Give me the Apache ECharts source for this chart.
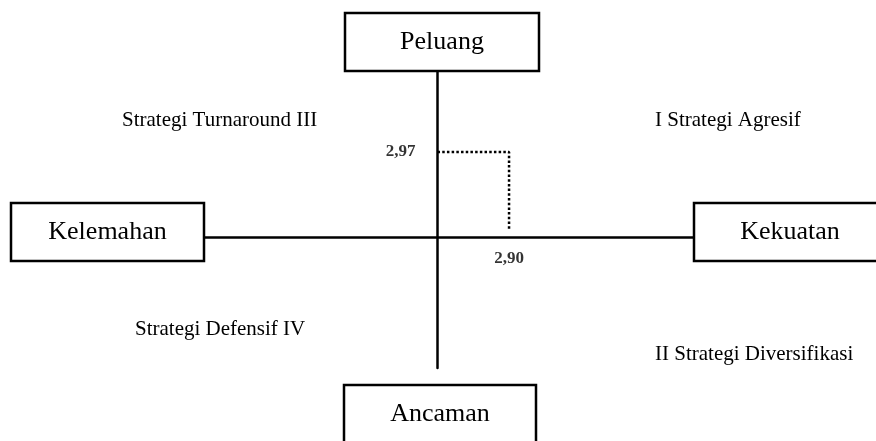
<!DOCTYPE html>
<html>
<head>
<meta charset="utf-8">
<script src="https://cdn.jsdelivr.net/npm/echarts@6/dist/echarts.min.js"></script>
<style>
html,body{margin:0;padding:0;background:#fff;}
#chart{width:876px;height:441px;}
</style>
</head>
<body>
<div id="chart"></div>
<script>
// ---- data ----
const sideLabels = ['Peluang', 'Kelemahan', 'Kekuatan', 'Ancaman'];
const quadrantLabels = ['Strategi Turnaround III', 'I Strategi Agresif', 'Strategi Defensif IV', 'II Strategi Diversifikasi'];
const scoreX = [2.90];   // Kekuatan - Kelemahan
const scoreY = [2.97];   // Peluang - Ancaman

// ---- layout ----
const FONT = "'Liberation Serif', 'Times New Roman', serif";
const X_MIN = -9.47, X_MAX = 10.40;
const Y_MIN = -4.577, Y_MAX = 5.80;
const DOT_END = 0.28;
const fmt = v => v.toFixed(2).replace('.', ',');

const chart = echarts.init(document.getElementById('chart'));

const boxes = [
  {x: 345, y: 13, w: 194, h: 58, cx: 442, cy: 42},
  {x: 11, y: 203, w: 193, h: 58, cx: 107.5, cy: 232},
  {x: 694, y: 203, w: 193, h: 58, cx: 790, cy: 232},
  {x: 344, y: 385, w: 192, h: 58, cx: 440, cy: 414}
];
const qpos = [[122, 120], [655, 120], [135, 329], [655, 354]];

const graphic = [];
sideLabels.forEach((t, i) => {
  const b = boxes[i];
  graphic.push({type: 'rect', z: 100, shape: {x: b.x, y: b.y, width: b.w, height: b.h},
    style: {fill: '#fff', stroke: '#000', lineWidth: 2.5}});
  graphic.push({type: 'text', z: 101, x: b.cx, y: b.cy,
    style: {text: t, font: '26px ' + FONT, fill: '#000', align: 'center', verticalAlign: 'middle'}});
});
quadrantLabels.forEach((t, i) => {
  graphic.push({type: 'text', z: 101, x: qpos[i][0], y: qpos[i][1],
    style: {text: t, font: '21px ' + FONT, fill: '#000', align: 'left', verticalAlign: 'middle'}});
});

const axisCommon = {
  type: 'value',
  axisLine: {show: true, onZero: true, lineStyle: {color: '#000', width: 2.5}},
  axisTick: {show: false},
  axisLabel: {show: false},
  splitLine: {show: false}
};

chart.setOption({
  animation: false,
  backgroundColor: '#fff',
  grid: {left: 204, right: 182, top: 71, bottom: 73},
  xAxis: Object.assign({}, axisCommon, {min: X_MIN, max: X_MAX}),
  yAxis: Object.assign({}, axisCommon, {min: Y_MIN, max: Y_MAX}),
  graphic: graphic,
  series: [
    {
      type: 'line',
      symbol: 'none',
      silent: true,
      data: [[0, scoreY[0]], [scoreX[0], scoreY[0]], [scoreX[0], DOT_END]],
      lineStyle: {color: '#000', width: 2.5, type: [2.5, 2.2]}
    },
    {
      type: 'scatter',
      symbolSize: 0,
      silent: true,
      data: [
        {value: [0, scoreY[0]], label: {position: 'left', distance: 22, formatter: () => fmt(scoreY[0])}},
        {value: [scoreX[0], 0], label: {position: 'bottom', distance: 13, formatter: () => fmt(scoreX[0])}}
      ],
      label: {show: true, color: '#000', fontFamily: FONT, fontWeight: 'bold', fontSize: 17}
    }
  ]
});
</script>
</body>
</html>
